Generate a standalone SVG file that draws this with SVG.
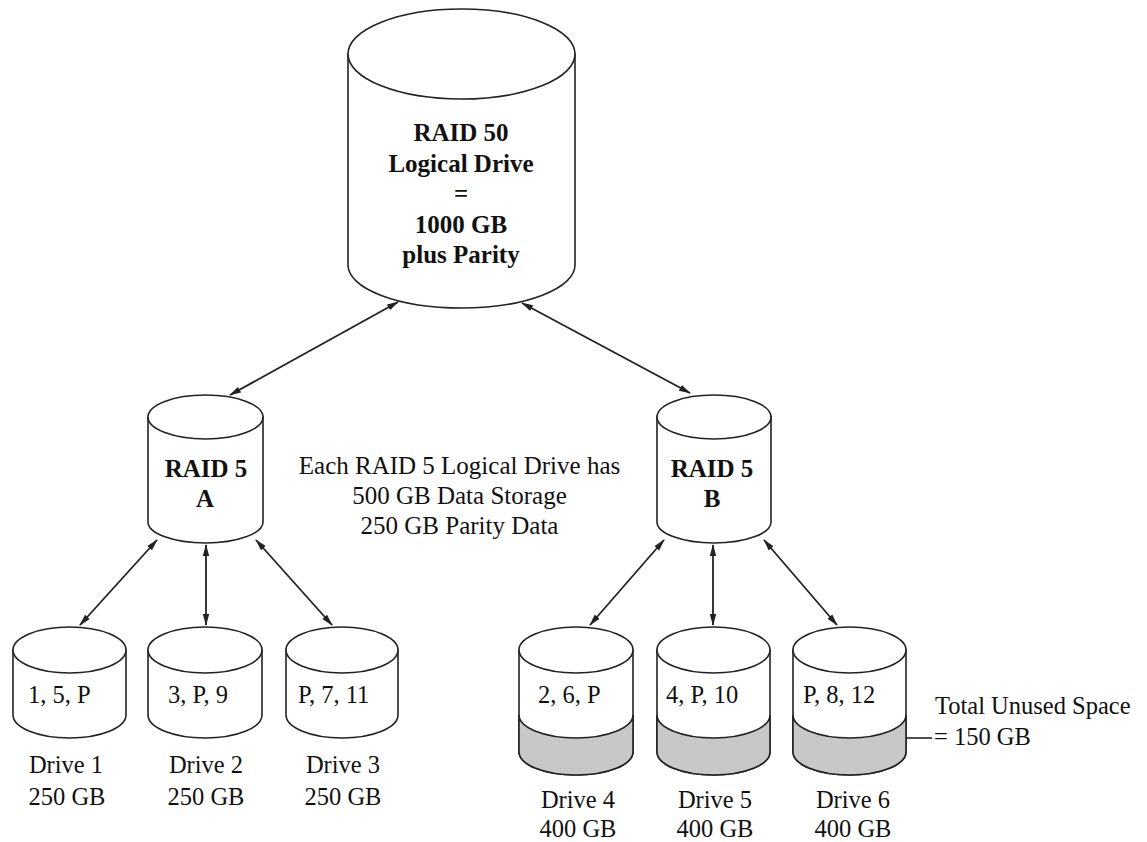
<svg xmlns="http://www.w3.org/2000/svg" width="1147" height="842" viewBox="0 0 1147 842">
<style>
.body{fill:#fff;stroke:#222;stroke-width:1.6}
.top{fill:#fff;stroke:#222;stroke-width:1.6}
.shade{fill:#c8c8c8;stroke:#222;stroke-width:1.6}
.b{font-family:"Liberation Serif","Times New Roman",serif;font-weight:bold;font-size:25px;fill:#111;text-anchor:middle}
.r{font-family:"Liberation Serif","Times New Roman",serif;font-size:24.5px;fill:#111}
.m{text-anchor:middle}
.conn line{stroke:#222;stroke-width:1.8;marker-start:url(#ah);marker-end:url(#ah)}
</style>
<defs>
<marker id="ah" viewBox="0 0 12 8" refX="11" refY="4" markerWidth="12" markerHeight="8" markerUnits="userSpaceOnUse" orient="auto-start-reverse">
<path d="M0,0.8 L12,4 L0,7.2 Z" fill="#222"/>
</marker>
</defs>
<rect width="1147" height="842" fill="#fff"/>

<g id="raid50">
<path class="body" d="M348,54 L348,265 A113.5,43 0 0 0 575,265 L575,54 Z"/>
<ellipse class="top" cx="461.5" cy="54" rx="113.5" ry="45"/>
<text class="b" x="461" y="141">RAID 50</text>
<text class="b" x="461" y="172">Logical Drive</text>
<text class="b" x="461" y="202">=</text>
<text class="b" x="461" y="233">1000 GB</text>
<text class="b" x="461" y="263">plus Parity</text>
</g>

<g id="raid5a">
<path class="body" d="M148,417 L148,522 A57.5,21 0 0 0 263,522 L263,417 Z"/>
<ellipse class="top" cx="205.5" cy="417" rx="57.5" ry="22"/>
<text class="b" x="206" y="477">RAID 5</text>
<text class="b" x="205" y="507">A</text>
</g>

<g id="raid5b">
<path class="body" d="M657,417 L657,522 A57,21 0 0 0 771,522 L771,417 Z"/>
<ellipse class="top" cx="714" cy="417" rx="57" ry="22"/>
<text class="b" x="712" y="477">RAID 5</text>
<text class="b" x="712" y="507">B</text>
</g>

<g id="note">
<text class="r m" x="459.5" y="474" style="font-size:25px">Each RAID 5 Logical Drive has</text>
<text class="r m" x="459.5" y="504" style="font-size:25px">500 GB Data Storage</text>
<text class="r m" x="459.5" y="534" style="font-size:25px">250 GB Parity Data</text>
</g>

<g id="drive1">
<path class="body" d="M13,650 L13,715 A56.5,23 0 0 0 126,715 L126,650 Z"/>
<ellipse class="top" cx="69.5" cy="650" rx="56.5" ry="23"/>
<text class="r" x="28" y="703">1, 5, P</text>
<text class="r m" x="66" y="773">Drive 1</text>
<text class="r m" x="67" y="805">250 GB</text>
</g>

<g id="drive2">
<path class="body" d="M148,650 L148,715 A57,23 0 0 0 262,715 L262,650 Z"/>
<ellipse class="top" cx="205" cy="650" rx="57" ry="23"/>
<text class="r" x="168" y="703">3, P, 9</text>
<text class="r m" x="206" y="773">Drive 2</text>
<text class="r m" x="206" y="805">250 GB</text>
</g>

<g id="drive3">
<path class="body" d="M286,650 L286,715 A56,23 0 0 0 398,715 L398,650 Z"/>
<ellipse class="top" cx="342" cy="650" rx="56" ry="23"/>
<text class="r" x="298" y="703">P, 7, 11</text>
<text class="r m" x="343" y="773">Drive 3</text>
<text class="r m" x="343" y="805">250 GB</text>
</g>

<g id="drive4">
<path class="body" d="M519,650 L519,752 A57,23 0 0 0 633,752 L633,650 Z"/>
<path class="shade" d="M519,715 A57,23 0 0 0 633,715 L633,752 A57,23 0 0 1 519,752 Z"/>
<ellipse class="top" cx="576" cy="650" rx="57" ry="23"/>
<text class="r" x="538" y="703">2, 6, P</text>
<text class="r m" x="578" y="808">Drive 4</text>
<text class="r m" x="578" y="837">400 GB</text>
</g>

<g id="drive5">
<path class="body" d="M657,650 L657,752 A56.5,23 0 0 0 770,752 L770,650 Z"/>
<path class="shade" d="M657,715 A56.5,23 0 0 0 770,715 L770,752 A56.5,23 0 0 1 657,752 Z"/>
<ellipse class="top" cx="713.5" cy="650" rx="56.5" ry="23"/>
<text class="r" x="666" y="703">4, P, 10</text>
<text class="r m" x="715" y="808">Drive 5</text>
<text class="r m" x="715" y="837">400 GB</text>
</g>

<g id="drive6">
<path class="body" d="M793,650 L793,752 A56.5,23 0 0 0 906,752 L906,650 Z"/>
<path class="shade" d="M793,715 A56.5,23 0 0 0 906,715 L906,752 A56.5,23 0 0 1 793,752 Z"/>
<ellipse class="top" cx="849.5" cy="650" rx="56.5" ry="23"/>
<text class="r" x="803" y="703">P, 8, 12</text>
<text class="r m" x="853" y="808">Drive 6</text>
<text class="r m" x="853" y="837">400 GB</text>
</g>

<g id="unused">
<line x1="906" y1="738" x2="932" y2="738" stroke="#222" stroke-width="1.6"/>
<text class="r" x="935" y="714">Total Unused Space</text>
<text class="r" x="934" y="745">= 150 GB</text>
</g>

<g id="connectors" class="conn">
<line x1="398" y1="302" x2="230" y2="395"/>
<line x1="522" y1="303" x2="690" y2="393"/>
<line x1="157" y1="540" x2="80" y2="625"/>
<line x1="206" y1="545" x2="206" y2="625"/>
<line x1="256" y1="540" x2="332" y2="625"/>
<line x1="664" y1="540" x2="590" y2="625"/>
<line x1="713" y1="545" x2="713" y2="625"/>
<line x1="764" y1="540" x2="837" y2="625"/>
</g>
</svg>
